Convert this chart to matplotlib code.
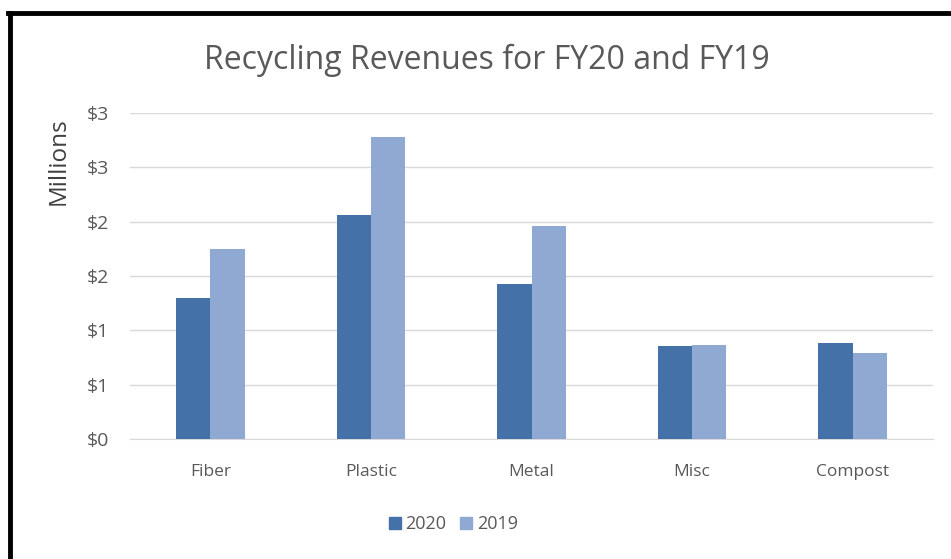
import math
import matplotlib
matplotlib.use("Agg")
import matplotlib.pyplot as plt
from matplotlib.ticker import FuncFormatter, MultipleLocator
from matplotlib.lines import Line2D
import numpy as np

categories = ["Fiber", "Plastic", "Metal", "Misc", "Compost"]
fy2020 = [1.30, 2.06, 1.43, 0.86, 0.88]
fy2019 = [1.75, 2.78, 1.96, 0.865, 0.79]
series_names = ["2020", "2019"]

plt.rcParams['font.family'] = ['Open Sans', 'DejaVu Sans']
gray = "#595959"
c2020 = "#4471A8"
c2019 = "#8FA9D2"

fig = plt.figure(figsize=(9.51, 5.59), dpi=100)
W, H = 951, 559
L, R, T, B = 130, 933, 113, 439
ax = fig.add_axes([L / W, 1 - B / H, (R - L) / W, (B - T) / H])

x = np.arange(len(categories))
bw = 0.213
ax.bar(x - bw / 2, fy2020, width=bw, color=c2020, label=series_names[0], zorder=3)
ax.bar(x + bw / 2, fy2019, width=bw, color=c2019, label=series_names[1], zorder=3)

ax.set_xlim(-0.5, len(categories) - 0.5)
ax.set_ylim(0, 3.0)
ax.yaxis.set_major_locator(MultipleLocator(0.5))
ax.yaxis.set_major_formatter(FuncFormatter(lambda v, p: "$%d" % math.floor(v + 0.5)))
ax.grid(axis='y', color="#D9D9D9", linewidth=1, zorder=0)
for s in ['top', 'right', 'left']:
    ax.spines[s].set_visible(False)
ax.spines['bottom'].set_color("#D9D9D9")
ax.tick_params(axis='both', length=0, colors=gray)
ax.tick_params(axis='x', pad=18, labelsize=12.5)
ax.tick_params(axis='y', pad=15, labelsize=14)
ax.set_xticks(x)
ax.set_xticklabels(categories)

ax.set_ylabel("Millions", color="#404040", fontsize=17.5)
ax.yaxis.set_label_coords((71 - L) / (R - L), (B - 161) / (B - T))

fig.text(487 / W, 1 - 60 / H, "Recycling Revenues for FY20 and FY19",
         ha='center', va='center', fontsize=23, color=gray)

handles = [Line2D([], [], marker='s', linestyle='none', markersize=8, color=c2020),
           Line2D([], [], marker='s', linestyle='none', markersize=8, color=c2019)]
fig.legend(handles, series_names, loc='center', bbox_to_anchor=(452 / W, 1 - 524 / H),
           ncol=2, frameon=False, fontsize=13, labelcolor=gray,
           handletextpad=0.1, columnspacing=0.6, handlelength=1.0)

# frame lines (left and top)
fig.add_artist(Line2D([10 / W, 10 / W], [0, 1 - 13 / H], transform=fig.transFigure,
                      color='black', linewidth=3.5))
fig.add_artist(Line2D([8.3 / W, 1], [1 - 13 / H, 1 - 13 / H], transform=fig.transFigure,
                      color='black', linewidth=3.5))

fig.savefig("out.png", dpi=100)
